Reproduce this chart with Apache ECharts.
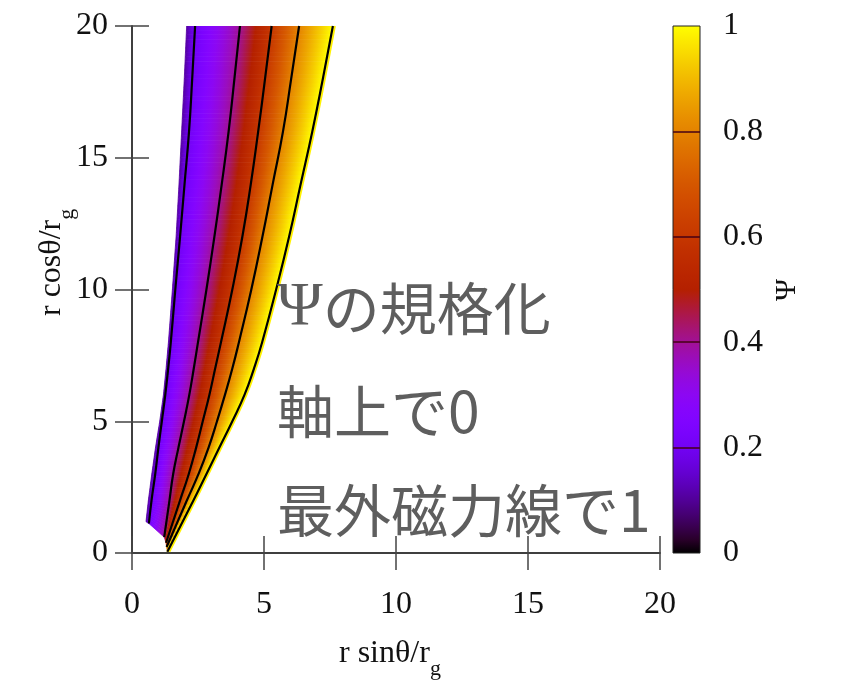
<!DOCTYPE html>
<html><head><meta charset="utf-8">
<script src="https://cdn.jsdelivr.net/npm/echarts@6/dist/echarts.min.js"></script>
<style>html,body{margin:0;padding:0;background:#fff}#c{width:851px;height:685px}</style>
</head><body><div id="c"></div>
<script>
// ---- data ----
const axisTicks = [0, 5, 10, 15, 20];
const cbTicks = [0, 0.2, 0.4, 0.6, 0.8, 1];
const cbLevels = [0.2, 0.4, 0.6, 0.8];
const contourLevels = [0.11, 0.2, 0.4, 0.6, 0.8, 1.0];
// each contour: [x, y] points (first = end on the horizon)
const psiEdge = [[0.53,1.19],[0.62,2],[0.75,3],[0.89,4],[1.05,5],[1.19,6],[1.29,7],[1.38,8],[1.53,10],[1.67,12],[1.78,14],[1.88,16],[1.98,18],[2.07,20]];
const psi02 = [[0.64,1.12],[0.74,2],[0.88,3],[1.0,4],[1.13,5],[1.26,6],[1.37,7],[1.47,8],[1.64,10],[1.82,12],[1.99,14],[2.16,16],[2.28,18],[2.39,20]];
const psi04 = [[1.22,0.6],[1.42,2],[1.56,3],[1.76,4],[1.97,5],[2.17,6],[2.34,7],[2.5,8],[2.82,10],[3.12,12],[3.4,14],[3.66,16],[3.88,18],[4.09,20]];
const psi06 = [[1.29,0.39],[1.82,2],[2.15,3],[2.43,4],[2.68,5],[2.93,6],[3.15,7],[3.37,8],[3.8,10],[4.18,12],[4.5,14],[4.78,16],[5.04,18],[5.29,20]];
const psi08 = [[1.31,0.23],[2.08,2],[2.52,3],[2.9,4],[3.22,5],[3.52,6],[3.8,7],[4.05,8],[4.52,10],[4.94,12],[5.33,14],[5.72,16],[6.03,18],[6.33,20]];
const psi10 = [[1.34,0.05],[2.33,2],[2.82,3],[3.31,4],[3.8,5],[4.26,6],[4.62,7],[4.93,8],[5.46,10],[5.95,12],[6.39,14],[6.83,16],[7.23,18],[7.61,20]];
const contours = [psiEdge, psi02, psi04, psi06, psi08, psi10];
const noteLines = ['{p|Ψ}の規格化', '軸上で0', '最外磁力線で1'];
const xName = 'r sinθ/r', yName = 'r cosθ/r', subName = 'g', cbName = 'Ψ';

// gnuplot default palette (rgbformulae 7,5,15)
function pal(v) {
  const r = Math.sqrt(v), g = v * v * v, b = Math.max(0, Math.sin(2 * Math.PI * v));
  const c = t => Math.round(255 * Math.min(1, Math.max(0, t)));
  return 'rgb(' + c(r) + ',' + c(g) + ',' + c(b) + ')';
}
function stops(lo, hi, n) {
  const s = [];
  for (let i = 0; i <= n; i++) s.push({offset: i / n, color: pal(lo + (hi - lo) * i / n)});
  return s;
}

// band slices built from the contour arrays
const bandData = [];
for (let b = 0; b < contours.length - 1; b++) {
  const L = contours[b], R = contours[b + 1];
  for (let s = 0; s < L.length - 1; s++) {
    bandData.push([L[s][0], L[s][1], L[s+1][0], L[s+1][1], R[s][0], R[s][1], R[s+1][0], R[s+1][1], contourLevels[b], contourLevels[b+1]]);
  }
}

const chart = echarts.init(document.getElementById('c'));
const serif = 'Liberation Serif';
const tickFont = {fontFamily: serif, fontSize: 32, color: '#111'};
const axisLine = {show: true, lineStyle: {color: '#333', width: 1.5}};
const axisTick = {show: true, inside: true, length: 17, lineStyle: {color: '#444', width: 1.5}};

const lineSeries = [];
// yellow rim of the outermost line
lineSeries.push({type: 'line', xAxisIndex: 0, yAxisIndex: 0, data: psi10, smooth: true, symbol: 'none', silent: true,
  lineStyle: {color: '#fff200', width: 2, shadowColor: '#fff200', shadowOffsetX: 2, shadowBlur: 0}, z: 3});
for (let i = 1; i < contours.length; i++) {
  lineSeries.push({type: 'line', xAxisIndex: 0, yAxisIndex: 0, data: contours[i], smooth: true, symbol: 'none', silent: true,
    lineStyle: {color: '#000', width: 2.2}, z: 4});
}

const lerp = (a, b, t) => [a[0] + (b[0] - a[0]) * t, a[1] + (b[1] - a[1]) * t];
const nameRich = {a: {fontFamily: serif, fontSize: 32, lineHeight: 42, verticalAlign: 'top', fill: '#111'},
                  b: {fontFamily: serif, fontSize: 22, lineHeight: 22, verticalAlign: 'bottom', fill: '#111'}};

chart.setOption({
  animation: false,
  backgroundColor: '#fff',
  grid: [
    {left: 132, right: 191, top: 26, bottom: 132},
    {left: 673, width: 27, top: 26, bottom: 132}
  ],
  xAxis: [
    {gridIndex: 0, type: 'value', min: axisTicks[0], max: axisTicks[axisTicks.length-1], interval: 5, position: 'bottom',
     axisLine, axisTick, splitLine: {show: false}, axisLabel: Object.assign({margin: 36}, tickFont)},
    {gridIndex: 0, type: 'value', min: axisTicks[0], max: axisTicks[axisTicks.length-1], interval: 5, position: 'top',
     axisLine, axisTick, splitLine: {show: false}, axisLabel: {show: false}},
    {gridIndex: 1, type: 'value', min: 0, max: 1, show: false}
  ],
  yAxis: [
    {gridIndex: 0, type: 'value', min: axisTicks[0], max: axisTicks[axisTicks.length-1], interval: 5, position: 'left',
     axisLine, axisTick, splitLine: {show: false}, axisLabel: Object.assign({margin: 24}, tickFont)},
    {gridIndex: 0, type: 'value', min: axisTicks[0], max: axisTicks[axisTicks.length-1], interval: 5, position: 'right',
     axisLine, axisTick, splitLine: {show: false}, axisLabel: {show: false}},
    {gridIndex: 1, type: 'value', min: cbTicks[0], max: cbTicks[cbTicks.length-1], interval: 0.2, position: 'right',
     axisLine: {show: false}, axisTick: {show: false}, splitLine: {show: false},
     axisLabel: Object.assign({margin: 23, formatter: v => (v === 0 || v === 1) ? String(v) : v.toFixed(1)}, tickFont)}
  ],
  series: [
    {
      type: 'custom', xAxisIndex: 0, yAxisIndex: 0, data: bandData, silent: true, clip: true, z: 2,
      renderItem: function (params, api) {
        const pL0 = api.coord([api.value(0), api.value(1)]);
        const pL1 = api.coord([api.value(2), api.value(3)]);
        const pR0 = api.coord([api.value(4), api.value(5)]);
        const pR1 = api.coord([api.value(6), api.value(7)]);
        const lo = api.value(8), hi = api.value(9);
        const st = stops(lo, hi, 6);
        const n = 12, children = [];
        for (let k = 0; k < n; k++) {
          const a0 = lerp(pL0, pL1, k / n), a1 = lerp(pL0, pL1, (k + 1) / n);
          const b0 = lerp(pR0, pR1, k / n), b1 = lerp(pR0, pR1, (k + 1) / n);
          const xl = (a0[0] + a1[0]) / 2, xr = (b0[0] + b1[0]) / 2, ym = (a0[1] + a1[1]) / 2;
          const grad = new echarts.graphic.LinearGradient(xl, ym, Math.max(xr, xl + 0.5), ym, st, true);
          children.push({type: 'polygon', shape: {points: [a0, a1, b1, b0]},
            style: {fill: grad, stroke: grad, lineWidth: 0.8}});
        }
        return {type: 'group', children};
      }
    },
    ...lineSeries,
    {
      type: 'custom', xAxisIndex: 2, yAxisIndex: 2, data: [[0, cbTicks[0], 1, cbTicks[cbTicks.length-1]]], silent: true, z: 2,
      renderItem: function (params, api) {
        const a = api.coord([api.value(0), api.value(1)]);
        const b = api.coord([api.value(2), api.value(3)]);
        const grad = new echarts.graphic.LinearGradient(0, 1, 0, 0, stops(0, 1, 40));
        return {type: 'rect', shape: {x: a[0], y: b[1], width: b[0] - a[0], height: a[1] - b[1]},
          style: {fill: grad, stroke: '#222', lineWidth: 1}};
      },
      markLine: {silent: true, symbol: 'none', label: {show: false},
        lineStyle: {color: 'rgba(70,0,20,0.75)', width: 2, type: 'solid'},
        data: cbLevels.map(v => ({yAxis: v}))}
    }
  ],
  graphic: [
    {type: 'text', left: 339, top: 638, style: {text: '{a|' + xName + '}{b|' + subName + '}', fill: '#111', rich: nameRich}},
    {type: 'text', x: 36, y: 316, rotation: Math.PI / 2, style: {text: '{a|' + yName + '}{b|' + subName + '}', fill: '#111', rich: nameRich}},
    {type: 'text', x: 772, y: 301, rotation: Math.PI / 2, style: {text: cbName, fontFamily: serif, fontSize: 30, fill: '#111'}},
    ...noteLines.map((t, i) => ({type: 'text', x: 277, y: [308, 411, 510][i], z: 10,
      style: {text: t, fontFamily: 'Noto Sans CJK JP', fontSize: 57, fill: '#5e5e5e', verticalAlign: 'middle',
        rich: {p: {fontFamily: serif, fontSize: 62, fill: '#5e5e5e'}}}}))
  ]
});
</script></body></html>
